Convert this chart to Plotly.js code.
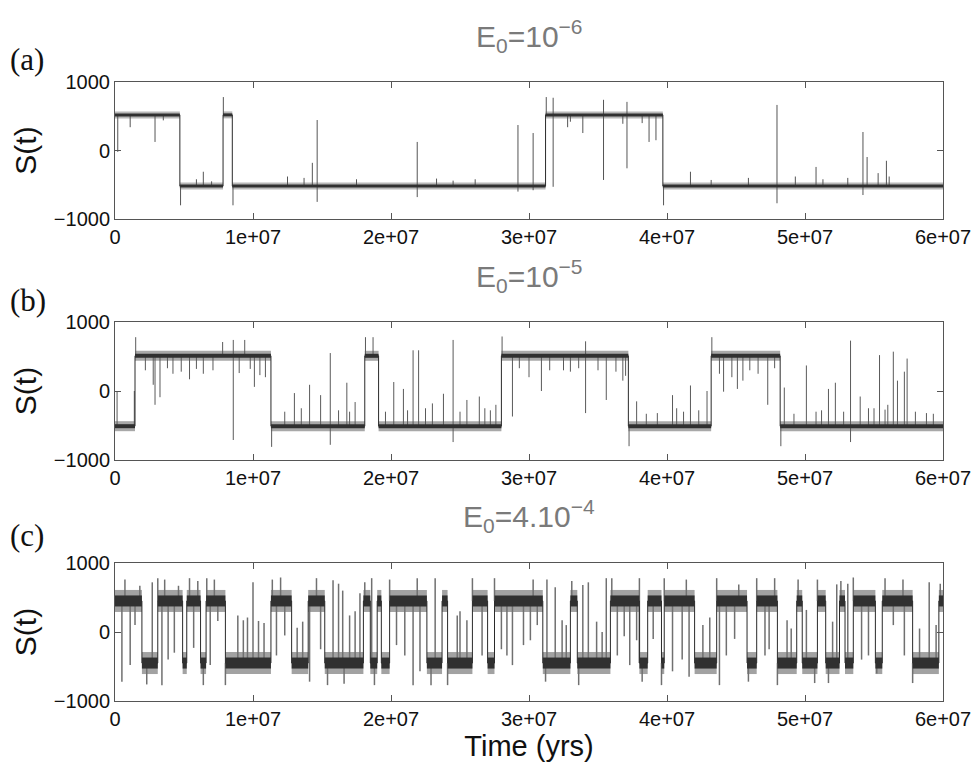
<!DOCTYPE html>
<html><head><meta charset="utf-8">
<script src="https://cdn.plot.ly/plotly-3.0.1.min.js"></script>
<style>html,body{margin:0;padding:0;background:#fff}#chart{width:978px;height:763px}</style>
</head><body><div id="chart"></div>
<script>
// ---------- DATA ----------
const tickVals = [0, 1e7, 2e7, 3e7, 4e7, 5e7, 6e7];
const tickText = ["0", "1e+07", "2e+07", "3e+07", "4e+07", "5e+07", "6e+07"];
const yTickVals = [-1000, 0, 1000];
const yTickText = ["\u22121000", "0", "1000"];
const tEnd = 6e7;

// Panel (a): E0 = 1e-6
const aSwitchT = [0, 4.7e6, 7.83e6, 8.5e6, 31.2e6, 39.7e6];
const aLevel   = [520, -520, 520, -520, 520, -520];
const aSpikeT = [0.2e6, 1.1e6, 2.9e6, 3.5e6, 4.75e6, 5.9e6, 6.4e6, 7.0e6, 7.85e6, 8.55e6, 12.5e6, 13.7e6, 14.3e6, 14.65e6, 14.65e6,
  17.5e6, 21.9e6, 21.9e6, 23.3e6, 24.5e6, 26.1e6, 29.2e6, 29.2e6, 30.3e6, 30.3e6, 31.25e6, 31.75e6, 31.75e6, 32.8e6, 33.0e6,
  33.9e6, 35.4e6, 35.4e6, 36.8e6, 37.1e6, 37.1e6, 38.2e6, 38.7e6, 39.2e6, 39.75e6, 41.7e6, 43.2e6, 45.9e6, 47.97e6, 47.97e6,
  49.3e6, 50.8e6, 51.3e6, 53.1e6, 54.2e6, 54.2e6, 54.5e6, 55.3e6, 55.9e6, 56.1e6];
const aSpikeV = [-20, 340, 125, 440, -800, -420, -310, -450, 780, -800, -380, -400, -180, 445, -750,
  -420, 125, -680, -410, -440, -420, 372, -600, 255, -580, 780, 770, -530, 340, 420,
  255, -430, 740, 390, -260, 710, 400, 125, 150, -800, -310, -430, -400, 665, -770,
  -380, -240, -420, -400, 270, -650, -95, -330, -150, -380];

// Panel (b): E0 = 1e-5
const bSwitchT = [0, 1.45e6, 11.3e6, 18.1e6, 19.1e6, 28.0e6, 37.2e6, 43.2e6, 48.2e6];
const bLevel   = [-510, 510, -510, 510, -510, 510, -510, 510, -510];
const bSpikeT = [0.15e6, 1.4e6, 1.5e6, 2.2e6, 2.77e6, 2.9e6, 3.26e6, 3.8e6, 4.2e6, 4.8e6, 5.4e6, 5.9e6, 6.4e6, 7.1e6, 7.8e6,
  8.57e6, 8.57e6, 9.0e6, 9.4e6, 9.8e6, 10.1e6, 10.5e6, 10.9e6, 11.35e6, 12.3e6, 13.0e6, 13.5e6, 14.1e6, 14.9e6, 15.6e6,
  15.6e6, 16.2e6, 16.8e6, 17.0e6, 17.4e6, 18.15e6, 18.7e6, 19.6e6, 20.2e6, 20.9e6, 21.2e6, 21.6e6, 22.0e6, 22.5e6, 23.0e6,
  23.8e6, 24.5e6, 24.5e6, 25.0e6, 25.5e6, 26.4e6, 26.8e6, 27.2e6, 27.6e6, 28.05e6, 28.8e6, 29.3e6, 30.0e6, 30.9e6, 31.5e6,
  32.5e6, 33.0e6, 33.6e6, 34.1e6, 34.1e6, 35.0e6, 35.6e6, 36.3e6, 36.8e6, 37.0e6, 37.25e6, 37.8e6, 38.5e6, 39.3e6, 40.4e6,
  40.7e6, 41.2e6, 41.7e6, 42.3e6, 42.9e6, 43.25e6, 43.8e6, 44.1e6, 44.7e6, 45.1e6, 45.5e6, 46.0e6, 46.6e6, 47.3e6, 47.8e6,
  48.25e6, 48.5e6, 49.2e6, 50.1e6, 50.8e6, 51.2e6, 51.7e6, 52.2e6, 52.8e6, 53.3e6, 53.3e6, 54.0e6, 54.6e6, 55.0e6, 55.4e6,
  55.8e6, 56.0e6, 56.4e6, 56.7e6, 57.2e6, 57.4e6, 58.0e6, 58.8e6, 59.3e6];
const bSpikeV = [0, 0, 780, 300, 90, -200, -90, 330, 250, 280, 170, 320, 250, 300, 710,
  -710, 740, 260, 740, 320, 60, 230, 200, -810, -300, -30, -250, 90, -60, 550,
  -780, -280, 120, -300, -160, 780, 780, -300, 130, 30, -280, 590, 590, -250, -180,
  -40, 740, -740, -300, -130, -80, -250, -280, -200, 790, -370, 330, 200, 0, 300,
  300, 280, 330, -320, 720, 300, -130, 280, 150, 220, -800, -150, -330, -320, -60,
  -250, -300, 80, -280, 0, 780, 250, -10, 200, 30, 150, 300, 250, -200, 330,
  -800, 50, -330, 370, -300, -280, 30, 120, -300, 730, -740, -80, -250, -250, 520,
  -270, -200, 570, 150, 280, 470, -300, -320, -330];

// Panel (c): E0 = 4e-4
const cSwitchT = [0, 1.95e6, 3.1e6, 4.9e6, 5.2e6, 6.2e6, 6.6e6, 8.0e6, 11.3e6, 12.8e6, 14.0e6, 15.2e6, 18.0e6, 18.5e6,
  19.0e6, 19.3e6, 19.9e6, 22.6e6, 23.7e6, 24.1e6, 25.9e6, 27.0e6, 27.5e6, 31.0e6, 33.0e6, 33.5e6, 35.9e6, 38.0e6,
  38.6e6, 39.6e6, 39.8e6, 42.0e6, 43.6e6, 45.8e6, 46.5e6, 48.0e6, 49.4e6, 49.8e6, 50.9e6, 51.5e6, 52.5e6, 52.9e6,
  53.5e6, 55.1e6, 55.6e6, 57.8e6, 59.7e6];
const cLevel = [450, -450, 450, -450, 450, -450, 450, -450, 450, -450, 450, -450, 450, -450,
  450, -450, 450, -450, 450, -450, 450, -450, 450, -450, 450, -450, 450, -450,
  450, -450, 450, -450, 450, -450, 450, -450, 450, -450, 450, -450, 450, -450,
  450, -450, 450, -450, 450];
const cSpikeT = [0.5e6, 0.72e6, 1.1e6, 1.45e6, 1.8e6, 2.3e6, 2.7e6, 3.1e6, 3.4e6, 3.6e6, 3.85e6, 4.3e6, 4.6e6, 5.4e6, 5.7e6,
  6.0e6, 6.4e6, 6.65e6, 6.9e6, 7.2e6, 7.45e6, 8.0e6, 8.9e6, 9.3e6, 9.6e6, 10.0e6, 10.4e6, 10.8e6, 11.4e6, 11.7e6,
  12.0e6, 12.3e6, 13.2e6, 13.6e6, 14.1e6, 14.6e6, 14.9e6, 15.4e6, 15.8e6, 16.2e6, 16.5e6, 16.6e6, 17.0e6, 17.4e6, 17.75e6,
  18.1e6, 18.6e6, 18.8e6, 19.9e6, 20.4e6, 21.0e6, 21.6e6, 21.9e6, 22.1e6, 22.9e6, 23.2e6, 24.1e6, 24.8e6, 25.0e6, 25.5e6,
  25.9e6, 26.6e6, 27.5e6, 28.0e6, 28.4e6, 28.8e6, 29.6e6, 30.1e6, 30.3e6, 30.6e6, 31.2e6, 31.3e6, 31.9e6, 32.4e6, 32.7e6,
  33.1e6, 33.6e6, 33.9e6, 34.3e6, 34.9e6, 35.3e6, 35.6e6, 36.0e6, 36.4e6, 36.9e6, 37.3e6, 37.8e6, 38.0e6, 38.2e6, 39.0e6,
  39.6e6, 39.8e6, 40.4e6, 41.1e6, 41.4e6, 41.6e6, 42.6e6, 43.1e6, 43.6e6, 43.8e6, 44.3e6, 44.9e6, 45.2e6, 45.9e6, 46.5e6,
  47.1e6, 47.4e6, 47.8e6, 48.0e6, 48.7e6, 49.0e6, 49.5e6, 50.1e6, 50.7e6, 50.9e6, 51.7e6, 52.0e6, 52.3e6, 52.6e6, 53.1e6,
  53.5e6, 54.1e6, 54.6e6, 55.2e6, 55.8e6, 56.4e6, 57.1e6, 57.2e6, 57.8e6, 58.3e6, 59.0e6, 59.5e6, 59.8e6];
const cSpikeV = [-720, 760, -480, 100, 670, -760, 720, 780, -770, 760, -400, -300, 670, 780, -230,
  740, -770, 780, -480, 760, 160, -770, 240, 170, 210, 720, 160, 130, 760, -340,
  790, -50, 60, 150, -720, 780, -250, -770, 750, 700, 600, -750, 240, 300, 560,
  720, 780, -770, 760, -190, -340, -770, 780, -570, -770, 780, -770, 240, 300, 170,
  780, -340, 780, -250, -340, -480, -190, -120, 760, 100, -720, 760, 650, 170, 100,
  740, -770, 680, 720, 150, 0, 780, 780, -340, -60, -480, -120, 780, -720, -100,
  -770, 780, -570, -400, 760, -650, 100, 210, 780, -770, -340, -100, 690, -720, 780,
  -340, -250, 780, -770, 170, 50, 760, 320, -740, 760, -740, 150, 690, 740, 700,
  790, -400, -340, -600, 780, 100, 760, -340, -740, 50, 720, 100, 700];

const panelLabels = ["(a)", "(b)", "(c)"];
const panelTitles = ["E<sub>0</sub>=10<sup>\u22126</sup>", "E<sub>0</sub>=10<sup>\u22125</sup>", "E<sub>0</sub>=4.10<sup>\u22124</sup>"];

// ---------- BUILDERS ----------
function levelAt(sw, lv, t) {
  let k = 0;
  for (let i = 0; i < sw.length; i++) if (sw[i] <= t) k = i;
  return lv[k];
}
function bandSegs(sw, lv) {
  const x = [], y = [];
  for (let i = 0; i < sw.length; i++) {
    const e = i + 1 < sw.length ? sw[i + 1] : tEnd;
    x.push(sw[i], e, null); y.push(lv[i], lv[i], null);
  }
  return {x, y};
}
function spikeSegs(sw, lv, st, sv) {
  const x = [], y = [];
  for (let i = 0; i < st.length; i++) {
    x.push(st[i], st[i], null); y.push(levelAt(sw, lv, st[i]), sv[i], null);
  }
  return {x, y};
}
function panelTraces(sw, lv, st, sv, ax, st8) {
  const xa = 'x' + ax, ya = 'y' + ax;
  const tr = [];
  const b = bandSegs(sw, lv);
  if (st8.light > 0) tr.push({x: b.x, y: b.y, xaxis: xa, yaxis: ya, mode: 'lines', hoverinfo: 'skip',
    line: {color: st8.lightColor, width: st8.light}, showlegend: false});
  const s = spikeSegs(sw, lv, st, sv);
  tr.push({x: s.x, y: s.y, xaxis: xa, yaxis: ya, mode: 'lines', hoverinfo: 'skip',
    line: {color: st8.spikeColor, width: st8.spikeW}, showlegend: false});
  tr.push({x: sw.concat([tEnd]), y: lv.concat([lv[lv.length - 1]]), xaxis: xa, yaxis: ya, mode: 'lines',
    line: {color: '#2a2a2a', width: 1, shape: 'hv'}, showlegend: false});
  tr.push({x: b.x, y: b.y, xaxis: xa, yaxis: ya, mode: 'lines', hoverinfo: 'skip',
    line: {color: '#303030', width: st8.dark}, showlegend: false});
  return tr;
}

const data = [].concat(
  panelTraces(aSwitchT, aLevel, aSpikeT, aSpikeV, '', {light: 7, lightColor: '#b8b8b8', dark: 3, spikeColor: '#555', spikeW: 1}),
  panelTraces(bSwitchT, bLevel, bSpikeT, bSpikeV, '2', {light: 10, lightColor: '#a8a8a8', dark: 4, spikeColor: '#5a5a5a', spikeW: 1}),
  panelTraces(cSwitchT, cLevel, cSpikeT, cSpikeV, '3', {light: 22, lightColor: '#a2a2a2', dark: 11, spikeColor: '#707070', spikeW: 1.5})
);

const W = 978, H = 763;
const xDom = [115 / W, 943 / W];
const yDoms = [[1 - 219 / H, 1 - 82 / H], [1 - 460 / H, 1 - 322 / H], [1 - 701 / H, 1 - 563 / H]];
const tickFont = {family: 'Liberation Sans, Arial, sans-serif', size: 20, color: '#111'};

function xAxis(anchor, withTitle) {
  const a = {domain: xDom, anchor: anchor, range: [0, tEnd], tickvals: tickVals, ticktext: tickText,
    ticks: 'inside', ticklen: 6, tickcolor: '#555', showline: true, linecolor: '#555', linewidth: 1,
    mirror: 'ticks', showgrid: false, zeroline: false, tickfont: tickFont, fixedrange: true};
  if (withTitle) a.title = {text: 'Time (yrs)', font: {family: 'Liberation Sans, Arial, sans-serif', size: 29, color: '#111'}, standoff: 4};
  return a;
}
function yAxis(anchor, dom) {
  return {domain: dom, anchor: anchor, range: [-1000, 1000], tickvals: yTickVals, ticktext: yTickText,
    ticks: 'inside', ticklen: 6, tickcolor: '#555', showline: true, linecolor: '#555', linewidth: 1,
    mirror: 'ticks', showgrid: false, zeroline: false, tickfont: tickFont, fixedrange: true,
    title: {text: 'S(t)', font: {family: 'Liberation Sans, Arial, sans-serif', size: 30, color: '#111'}, standoff: 8}};
}

const labelY = [60, 300, 535];
const titleY = [36, 276, 516];
const annotations = [];
for (let i = 0; i < 3; i++) {
  annotations.push({xref: 'paper', yref: 'paper', x: 8 / W, y: 1 - labelY[i] / H, xanchor: 'left', yanchor: 'middle',
    text: panelLabels[i], showarrow: false, font: {family: 'Liberation Serif, Times New Roman, serif', size: 31, color: '#111'}});
  annotations.push({xref: 'paper', yref: 'paper', x: 529 / W, y: 1 - titleY[i] / H, xanchor: 'center', yanchor: 'middle',
    text: panelTitles[i], showarrow: false, font: {family: 'Liberation Sans, Arial, sans-serif', size: 30, color: '#7a7a7a'}});
}

const layout = {
  width: W, height: H, margin: {l: 0, r: 0, t: 0, b: 0},
  paper_bgcolor: '#fff', plot_bgcolor: '#fff', showlegend: false,
  xaxis: xAxis('y', false), yaxis: yAxis('x', yDoms[0]),
  xaxis2: xAxis('y2', false), yaxis2: yAxis('x2', yDoms[1]),
  xaxis3: xAxis('y3', true), yaxis3: yAxis('x3', yDoms[2]),
  annotations: annotations
};

Plotly.newPlot('chart', data, layout, {staticPlot: true, displayModeBar: false});
</script></body></html>
